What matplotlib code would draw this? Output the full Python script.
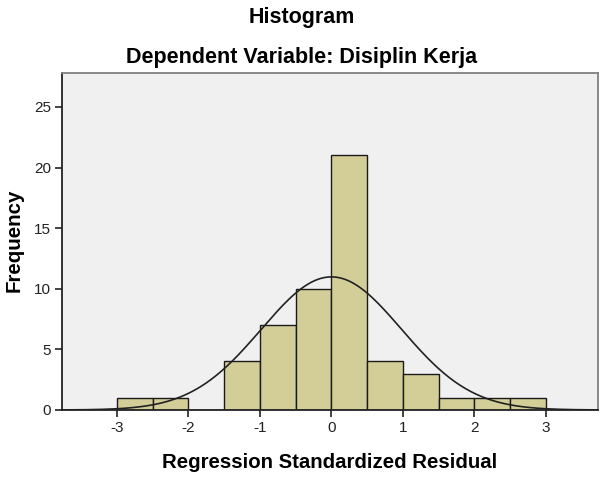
import numpy as np
import matplotlib.pyplot as plt

# histogram of standardized residuals (SPSS style)
bin_edges = [-3.0, -2.5, -2.0, -1.5, -1.0, -0.5, 0.0, 0.5, 1.0, 1.5, 2.0, 2.5, 3.0]
counts = [1, 1, 0, 4, 7, 10, 21, 4, 3, 1, 1, 1]
mean = 0.0
std_dev = 0.981
n_obs = sum(counts)
x_ticks = [-3, -2, -1, 0, 1, 2, 3]
y_ticks = [0, 5, 10, 15, 20, 25]

plt.rcParams['font.family'] = ['Liberation Sans', 'DejaVu Sans']
plt.rcParams['axes.unicode_minus'] = False

fig = plt.figure(figsize=(6.03, 4.78), dpi=100)
ax = fig.add_axes([0.1028, 0.1423, 0.8889, 0.705])
ax.set_facecolor('#f0f0f0')

edges = np.array(bin_edges)
widths = np.diff(edges)
ax.bar(edges[:-1], counts, width=widths, align='edge',
       color='#d3ce97', edgecolor='#1a1a1a', linewidth=1.0, zorder=2)

# normal curve
xs = np.linspace(-3.8, 3.8, 400)
bw = widths[0]
ys = n_obs * bw / (std_dev * np.sqrt(2 * np.pi)) * np.exp(-0.5 * ((xs - mean) / std_dev) ** 2)
ax.plot(xs, ys, color='#222222', linewidth=1.2, zorder=3)

ax.set_xlim(-3.77, 3.73)
ax.set_ylim(0, 27.8)
ax.set_xticks(x_ticks)
ax.set_yticks(y_ticks)
ax.tick_params(axis='both', direction='out', length=5, width=1.2, labelsize=11,
               colors='#222222', pad=3)

for s in ['left', 'bottom']:
    ax.spines[s].set_color('#222222')
    ax.spines[s].set_linewidth(1.3)
for s in ['top', 'right']:
    ax.spines[s].set_color('#808080')
    ax.spines[s].set_linewidth(1.3)

fig.text(330 / 603, 1 - 463 / 478, 'Regression Standardized Residual', ha='center', va='center',
         fontsize=14.7, fontweight='bold')
fig.text(14 / 603, 1 - 240 / 478, 'Frequency', ha='center', va='center', rotation=90,
         fontsize=14.8, fontweight='bold')

fig.text(0.5, 1 - 17 / 478, 'Histogram', ha='center', va='center', fontsize=15.5, fontweight='bold')
fig.text(0.5, 1 - 57 / 478, 'Dependent Variable: Disiplin Kerja', ha='center', va='center',
         fontsize=15.5, fontweight='bold')

fig.savefig('out.png', dpi=100)
